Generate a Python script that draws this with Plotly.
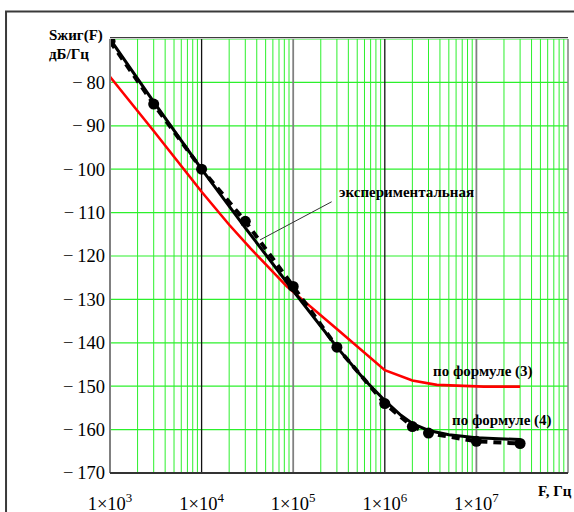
import numpy as np
import plotly.graph_objects as go

# Spectral density S(F), dB/Hz, versus frequency F, Hz
# Formula (3)
f3 = [1e3, 3e3, 1e4, 2e4, 3.4e4, 8.5e4, 3e5, 1e6, 2e6, 3.7e6, 1.2e7, 3e7]
s3 = [-78.7, -91.2, -105.2, -112.8, -118.2, -127.0, -136.8, -146.3, -148.7, -149.7, -150.1, -150.1]

# Formula (4)
f4 = [1e3, 3e3, 1e4, 3e4, 1e5, 3e5, 6e5, 1e6, 1.5e6, 2e6, 3e6, 5e6, 1e7, 2e7, 3e7]
s4 = [-70.0, -84.5, -100.0, -113.5, -128.0, -141.0, -148.5, -153.3, -156.7, -158.6, -160.2, -161.2, -161.9, -162.2, -162.3]

# Experimental points
fe = [1e3, 3e3, 1e4, 3e4, 1e5, 3e5, 1e6, 2e6, 3e6, 1e7, 3e7]
se = [-70.5, -85.0, -100.0, -112.0, -127.0, -141.0, -154.0, -159.3, -160.8, -162.7, -163.2]

x_decades = [3, 4, 5, 6, 7]
x_ticktext = ["1×10<sup>%d</sup>" % d for d in x_decades]
y_ticks = list(range(-170, -70, 10))
y_ticktext = ["\u2212\u2009%d" % abs(v) for v in y_ticks]

X_MIN, X_MAX = 3, 8
Y_MIN, Y_MAX = -170, -70

GREEN = "#2cf02c"
serif = "Liberation Serif, Times New Roman, serif"

fig = go.Figure()

# minor vertical grid (2..9 in each decade)
gx, gy = [], []
for d in range(X_MIN, X_MAX):
    for k in range(2, 10):
        gx += [k * 10 ** d, k * 10 ** d, None]
        gy += [Y_MIN, Y_MAX, None]
fig.add_trace(go.Scatter(x=gx, y=gy, mode="lines", line=dict(color=GREEN, width=1),
                         hoverinfo="skip", showlegend=False))

# horizontal grid
hx, hy = [], []
for v in range(Y_MIN + 10, Y_MAX + 1, 10):
    hx += [10 ** X_MIN, 10 ** X_MAX, None]
    hy += [v, v, None]
fig.add_trace(go.Scatter(x=hx, y=hy, mode="lines", line=dict(color=GREEN, width=1.2),
                         hoverinfo="skip", showlegend=False))

# decade lines
for d in range(X_MIN + 1, X_MAX):
    col = "#111111" if d % 2 == 0 else "#808080"
    fig.add_trace(go.Scatter(x=[10 ** d, 10 ** d], y=[Y_MIN, Y_MAX], mode="lines",
                             line=dict(color=col, width=1.3 if d % 2 == 0 else 1.8),
                             hoverinfo="skip", showlegend=False))

# curves
fig.add_trace(go.Scatter(x=f3, y=s3, mode="lines", line=dict(color="#ff0000", width=2.6),
                         name="по формуле (3)", showlegend=False))
fig.add_trace(go.Scatter(x=f4, y=s4, mode="lines", line=dict(color="#000000", width=3),
                         name="по формуле (4)", showlegend=False))
fig.add_trace(go.Scatter(x=fe, y=se, mode="lines+markers",
                         line=dict(color="#000000", width=4, dash="8px,6px"),
                         marker=dict(color="#000000", size=11),
                         name="экспериментальная", showlegend=False))

# leader line for the experimental curve label
fig.add_trace(go.Scatter(x=[4.34e4, 2.63e5], y=[-116.3, -107.5], mode="lines",
                         line=dict(color="#333333", width=1), hoverinfo="skip", showlegend=False))

lbl = dict(family=serif, size=15, color="#000000")
annotations = [
    dict(x=np.log10(3.0e5), y=-105.25, xref="x", yref="y", text="<b>экспериментальная</b>",
         showarrow=False, xanchor="left", yanchor="middle", font=lbl),
    dict(x=np.log10(3.19e6), y=-146.7, xref="x", yref="y", text="<b>по формуле (3)</b>",
         showarrow=False, xanchor="left", yanchor="middle", font=lbl),
    dict(x=np.log10(5.15e6), y=-158.0, xref="x", yref="y", text="<b>по формуле (4)</b>",
         showarrow=False, xanchor="left", yanchor="middle", font=lbl),
    dict(x=0.930, y=-0.041, xref="paper", yref="paper", text="<b>F, Гц</b>",
         showarrow=False, xanchor="left", yanchor="middle", font=lbl),
    dict(x=-0.1376, y=1.007, xref="paper", yref="paper", text="<b>Sжиг(F)</b>",
         showarrow=False, xanchor="left", yanchor="middle", font=lbl),
    dict(x=-0.1376, y=0.965, xref="paper", yref="paper", text="<b>дБ/Гц</b>",
         showarrow=False, xanchor="left", yanchor="middle", font=lbl),
]

shapes = [
    # outer frame
    dict(type="rect", xref="paper", yref="paper", x0=-0.227, x1=1.2, y0=-0.3, y1=1.0634,
         line=dict(color="#3a3a3a", width=2), layer="below"),
    # plot frame
    dict(type="line", xref="paper", yref="paper", x0=0, x1=0, y0=0, y1=1,
         line=dict(color="#808080", width=2), layer="above"),
    dict(type="line", xref="paper", yref="paper", x0=1, x1=1, y0=0, y1=1,
         line=dict(color="#808080", width=1.5), layer="above"),
    dict(type="line", xref="paper", yref="paper", x0=0, x1=1, y0=0, y1=0,
         line=dict(color="#333333", width=2), layer="above"),
    dict(type="line", xref="paper", yref="paper", x0=0, x1=1, y0=1.003, y1=1.003,
         line=dict(color="#111111", width=1), layer="above"),
]

fig.update_layout(
    width=574, height=512,
    margin=dict(l=110, r=6, t=39, b=39),
    paper_bgcolor="#ffffff", plot_bgcolor="#ffffff",
    annotations=annotations, shapes=shapes,
    xaxis=dict(type="log", range=[X_MIN, X_MAX], showgrid=False, zeroline=False, showline=False,
               tickvals=[10 ** d for d in x_decades], ticktext=x_ticktext, ticks="",
               tickfont=dict(family=serif, size=18.5, color="#000000"), ticklabelstandoff=17,
               automargin=False),
    yaxis=dict(range=[Y_MIN, Y_MAX], showgrid=False, zeroline=False, showline=False,
               tickvals=y_ticks, ticktext=y_ticktext, ticks="",
               tickfont=dict(family=serif, size=18.5, color="#000000"), ticklabelstandoff=4,
               automargin=False),
)

fig.write_html("out.html")
